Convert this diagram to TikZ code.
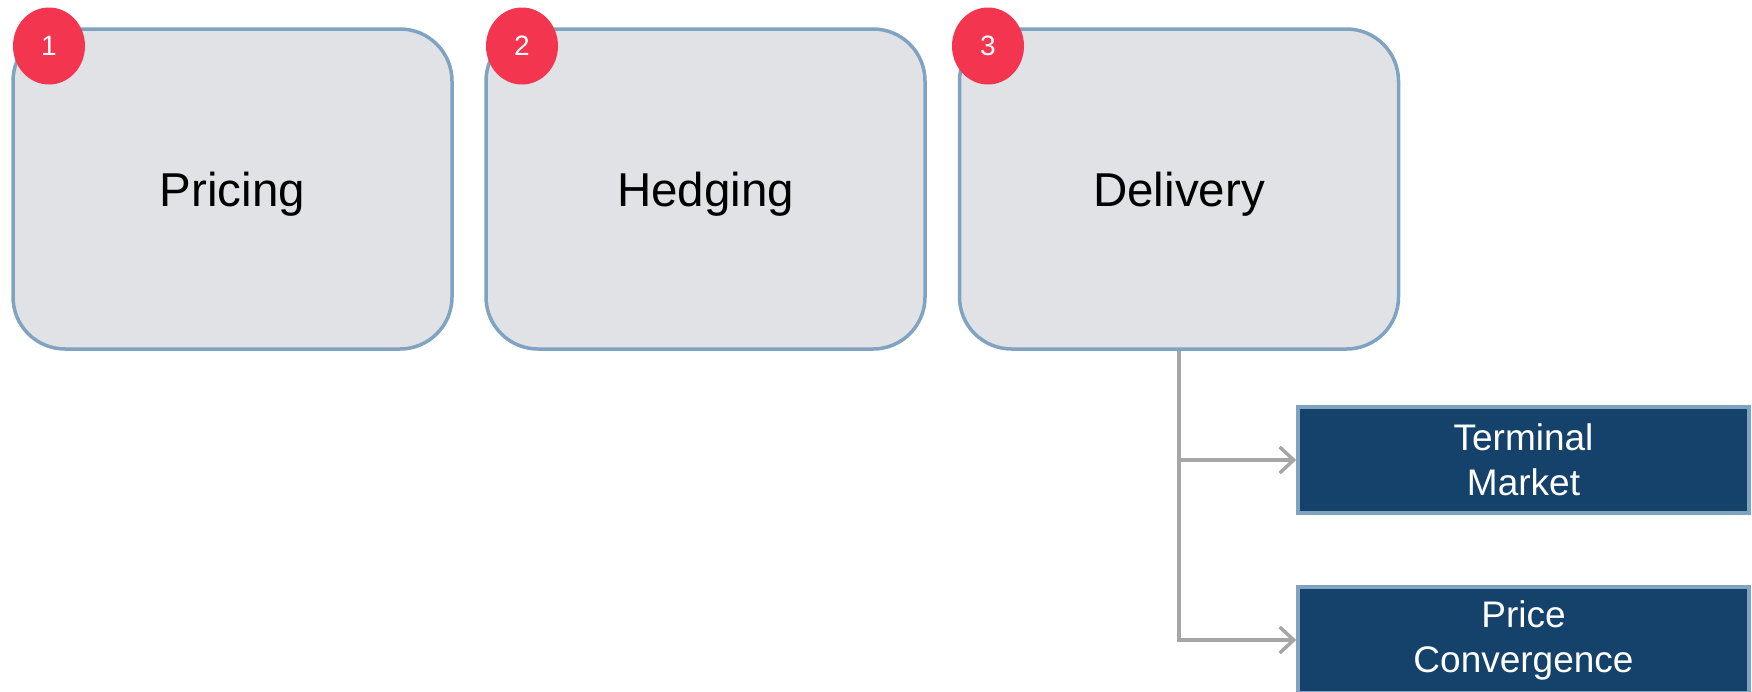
\documentclass[tikz,border=0pt]{standalone}
\usepackage{fontspec}
\setmainfont{Liberation Sans}
\usetikzlibrary{arrows.meta,shapes.geometric}
\definecolor{stagefill}{HTML}{E0E2E6}
\definecolor{stageline}{HTML}{7FA3C0}
\definecolor{badgered}{HTML}{F3354F}
\definecolor{navy}{HTML}{15426A}
\definecolor{linkgray}{HTML}{A6A6A6}
\begin{document}
\begin{tikzpicture}[x=1pt,y=-1pt,
  stage/.style={draw=stageline, fill=stagefill, line width=3.5pt, rounded corners=52pt,
    minimum width=439pt, minimum height=320pt, inner sep=0pt,
    text height=34pt, text depth=0pt,
    font=\fontsize{47.5}{57}\selectfont},
  badge/.style={ellipse, fill=badgered, minimum width=72pt, minimum height=77pt,
    inner sep=0pt, text=white, font=\fontsize{28}{34}\selectfont},
  outcome/.style={draw=stageline, fill=navy, line width=3.5pt, minimum width=451pt,
    minimum height=106pt, inner sep=0pt, text=white, align=center,
    font=\fontsize{37}{45}\selectfont},
  link/.style={draw=linkgray, line width=3.5pt, -{Straight Barb[length=14pt,width=26pt]}}]
\useasboundingbox (0,0) rectangle (1752,691);

% three stages
\node[stage] (p) at (232.5,189) {Pricing};
\node[stage] (h) at (705.5,189) {Hedging};
\node[stage] (d) at (1179,189) {Delivery};

% numbered badges
\node[badge] (b1) at (49,46) {1};
\node[badge] (b2) at (522,46) {2};
\node[badge] (b3) at (988,46) {3};

% delivery outcomes
\node[outcome] (term) at (1523.5,460) {Terminal\\Market};
\node[outcome] (price) at (1523.5,640) {Price\\Convergence};

\draw[link] (d.south) |- (term.west);
\draw[link] (d.south) |- (price.west);
\end{tikzpicture}
\end{document}
